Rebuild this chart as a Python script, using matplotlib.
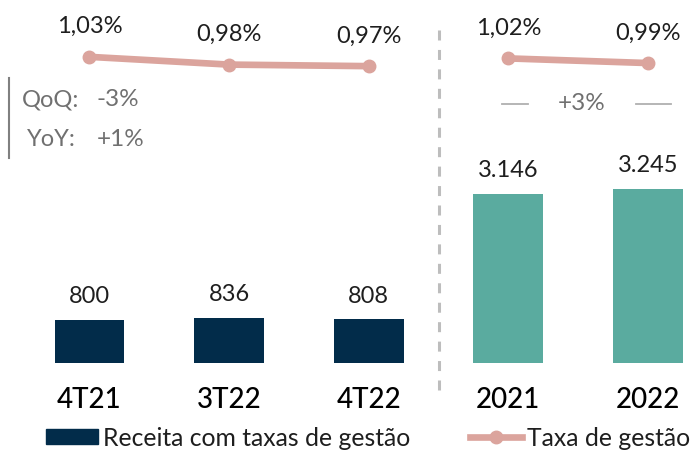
import matplotlib
matplotlib.use("Agg")
import matplotlib.pyplot as plt
from matplotlib.lines import Line2D
from matplotlib.patches import Patch

plt.rcParams['font.family'] = ['Lato', 'DejaVu Sans']
plt.rcParams['lines.scale_dashes'] = False

# data
quarters = ["4T21", "3T22", "4T22"]
quarter_revenue = [800, 836, 808]
quarter_rate = [1.03, 0.98, 0.97]
years = ["2021", "2022"]
year_revenue = [3146, 3245]
year_rate = [1.02, 0.99]
qoq_text = "-3%"
yoy_text = "+1%"
annual_growth = "+3%"

NAVY = "#022c4a"
TEAL = "#5aab9f"
PINK = "#dba49d"
GRAY = "#707070"
TXT = "#1e1e1e"


def fmt_thousands(v):
    return f"{v:,.0f}".replace(",", ".")


def fmt_pct(v):
    return f"{v:.2f}%".replace(".", ",")


W, H = 692, 454
fig = plt.figure(figsize=(W / 100, H / 100), dpi=100)
ax = fig.add_axes([0, 0, 1, 1])
ax2 = ax.twinx()
for a in (ax, ax2):
    a.set_axis_off()

qx = list(range(len(quarters)))
yx = [len(quarters) + i for i in range(len(years))]

# bars
ax.bar(qx, quarter_revenue, width=0.5, color=NAVY)
ax.bar(yx, year_revenue, width=0.5, color=TEAL)

# scales chosen so bars sit on a common baseline
step_px = 139.6
x0_px = 89.5
ax.set_xlim(-x0_px / step_px, (W - x0_px) / step_px)
base_px = 362.5
scale = 168.5 / 3146
ax.set_ylim(-(H - base_px) / scale, base_px / scale)

# line axis
rate_scale = 155.0
ref_px = 61.5
ax2.set_ylim(1 - (H - ref_px) / rate_scale, 1 + ref_px / rate_scale)
ax2.set_xlim(ax.get_xlim())

ax2.plot(qx, quarter_rate, color=PINK, lw=4.8, marker="o", ms=9, solid_capstyle="round")
ax2.plot(yx, year_rate, color=PINK, lw=4.8, marker="o", ms=9, solid_capstyle="round")

# value labels
for x, v in zip(qx + yx, quarter_revenue + year_revenue):
    ax.annotate(fmt_thousands(v), (x, v), xytext=(0, 12), textcoords="offset points",
                ha="center", va="baseline", fontsize=17, color=TXT)
for x, v in zip(qx + yx, quarter_rate + year_rate):
    ax2.annotate(fmt_pct(v), (x, v), xytext=(0, 17), textcoords="offset points",
                 ha="center", va="baseline", fontsize=17, color=TXT)

# category labels
for x, c in zip(qx + yx, quarters + years):
    ax.annotate(c, (x, 0), xytext=(0, -32.5), textcoords="offset points",
                ha="center", va="baseline", fontsize=20, color="#000000",
                fontweight="medium")

# separator
sep_x = len(quarters) - 0.5
ax.plot([sep_x, sep_x], [1 - 30 / H, 1 - 395 / H], transform=ax.get_xaxis_transform(),
        color="#bdbdbd", lw=2.2, dashes=(7.2, 6.8))

# QoQ / YoY box
fig.add_artist(Line2D([9 / W, 9 / W], [1 - 78 / H, 1 - 158 / H], color="#808080", lw=1.5))
fig.text(22 / W, 1 - 100 / H, "QoQ:", ha="left", va="center", fontsize=17, color=GRAY)
fig.text(97 / W, 1 - 100 / H, qoq_text, ha="left", va="center", fontsize=17.5, color=GRAY)
fig.text(27 / W, 1 - 139 / H, "YoY:", ha="left", va="center", fontsize=17, color=GRAY)
fig.text(97 / W, 1 - 139 / H, yoy_text, ha="left", va="center", fontsize=17.5, color=GRAY)

# annual growth
fig.text(582 / W, 1 - 103 / H, annual_growth, ha="center", va="center", fontsize=17.5, color=GRAY)
fig.add_artist(Line2D([502 / W, 528 / W], [1 - 104 / H] * 2, color="#b0b0b0", lw=1.3))
fig.add_artist(Line2D([636 / W, 671 / W], [1 - 104 / H] * 2, color="#b0b0b0", lw=1.3))

# legend
handles = [Patch(color=NAVY, label="Receita com taxas de gestão"),
           Line2D([], [], color=PINK, lw=4.8, marker="o", ms=9, label="Taxa de gestão")]
fig.legend(handles=handles, loc="center", bbox_to_anchor=(368 / W, 16 / H), ncol=2,
           frameon=False, fontsize=17.8, handlelength=2.1, handleheight=0.55,
           handletextpad=0.2, columnspacing=2.4, borderpad=0, borderaxespad=0,
           labelcolor=TXT)

fig.savefig("out.png", dpi=100)
